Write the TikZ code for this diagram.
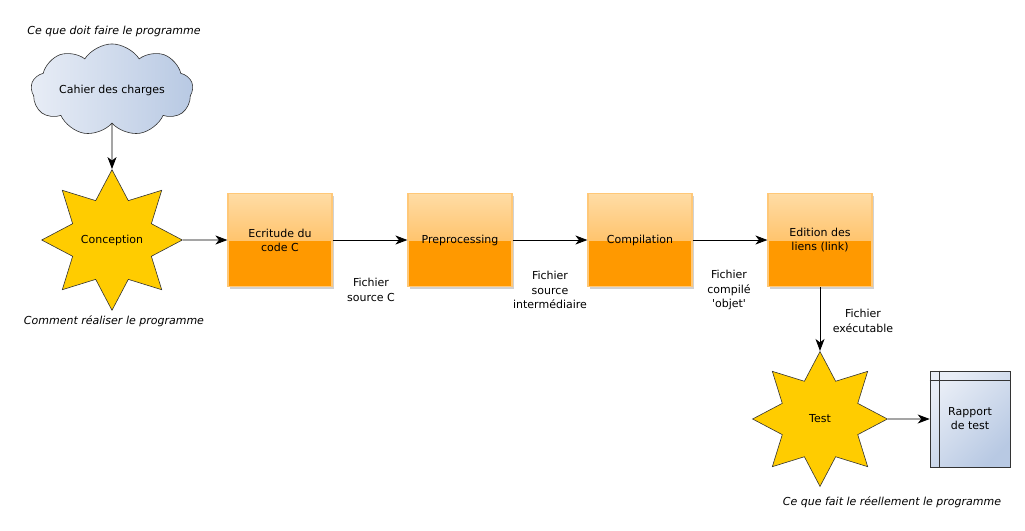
\documentclass[tikz,border=0pt]{standalone}
\usepackage{fontspec}
\setmainfont{DejaVu Sans}
\usetikzlibrary{shapes.geometric,shapes.symbols,arrows.meta,shadows}
\definecolor{cloudleft}{RGB}{232,237,246}
\definecolor{cloudright}{RGB}{184,201,227}
\definecolor{staryellow}{RGB}{255,204,0}
\definecolor{boxorange}{RGB}{255,153,0}
\definecolor{boxlight}{RGB}{255,220,165}
\definecolor{boxmid}{RGB}{255,172,55}
\definecolor{boxrim}{RGB}{255,200,120}

\begin{document}
\begin{tikzpicture}[x=1pt,y=-1pt,>={Stealth[length=12pt,width=9pt,inset=3.5pt]},
        font=\fontsize{11}{14}\selectfont,
        every node/.style={align=center},
        etape/.style={rectangle, minimum width=104pt, minimum height=93pt,
          fill=boxorange, draw=boxrim, line width=1.2pt,
          drop shadow={shadow xshift=2pt, shadow yshift=-2pt, opacity=0.3, fill=black!60},
          path picture={\shade[top color=boxlight, bottom color=boxmid]
            (path picture bounding box.north west) rectangle (path picture bounding box.east);}},
        eclat/.style={star, star points=8, star point ratio=1.65, inner sep=24.8pt,
          fill=staryellow, draw=black!80, line width=0.6pt},
        fichier/.style={font=\fontsize{11}{14.5}\selectfont},
        remarque/.style={font=\fontsize{11}{14}\selectfont\itshape},
        fleche/.style={->, line width=0.8pt}]
        \useasboundingbox (0,0) rectangle (1025,530);

        % besoin
        \node[remarque] (doit) at (114,31) {Ce que doit faire le programme};
        \node[cloud, cloud puffs=9, cloud puff arc=115, aspect=2.4,
          minimum width=153pt, minimum height=56pt,
          left color=cloudleft, right color=cloudright, draw=black!80, line width=0.6pt]
          (cahier) at (112,90) {Cahier des charges};

        % conception
        \node[eclat] (conception) at (112,240) {\makebox[0pt]{Conception}};
        \node[remarque] (comment) at (114,321) {Comment réaliser le programme};

        % chaine de production
        \node[etape] (ecriture) at (280,240) {Ecritude du\\code C};
        \node[etape] (preproc) at (460,240) {Preprocessing};
        \node[etape] (compil) at (640,240) {Compilation};
        \node[etape] (edition) at (820,240) {Edition des\\liens (link)};

        \node[fichier] (sourcec) at (371,290) {Fichier\\source C};
        \node[fichier] (sourcei) at (550,290) {Fichier\\source\\intermédiaire};
        \node[fichier] (objet) at (729,290) {Fichier\\compilé\\\textquotesingle objet\textquotesingle};
        \node[fichier] (exec) at (863,321) {Fichier\\exécutable};

        % test
        \node[eclat] (test) at (820,419) {\makebox[0pt]{Test}};
        \node[rectangle, minimum width=80pt, minimum height=96pt,
          top color=cloudleft, bottom color=cloudright, shading angle=45,
          draw=black!80, line width=0.6pt] (rapport) at (970,419) {Rapport\\de test};
        \draw[black!80, line width=0.6pt] ([xshift=10pt]rapport.north west) -- ([xshift=10pt]rapport.south west);
        \draw[black!80, line width=0.6pt] ([yshift=-10pt]rapport.north west) -- ([yshift=-10pt]rapport.north east);
        \node[remarque] (reel) at (892,502) {Ce que fait le réellement le programme};

        % liens
        \draw[fleche] (cahier) -- (conception);
        \draw[fleche] (conception) -- (ecriture);
        \draw[fleche] (ecriture) -- (preproc);
        \draw[fleche] (preproc) -- (compil);
        \draw[fleche] (compil) -- (edition);
        \draw[fleche] (edition) -- (test);
        \draw[fleche] (test) -- (rapport);
\end{tikzpicture}
\end{document}
